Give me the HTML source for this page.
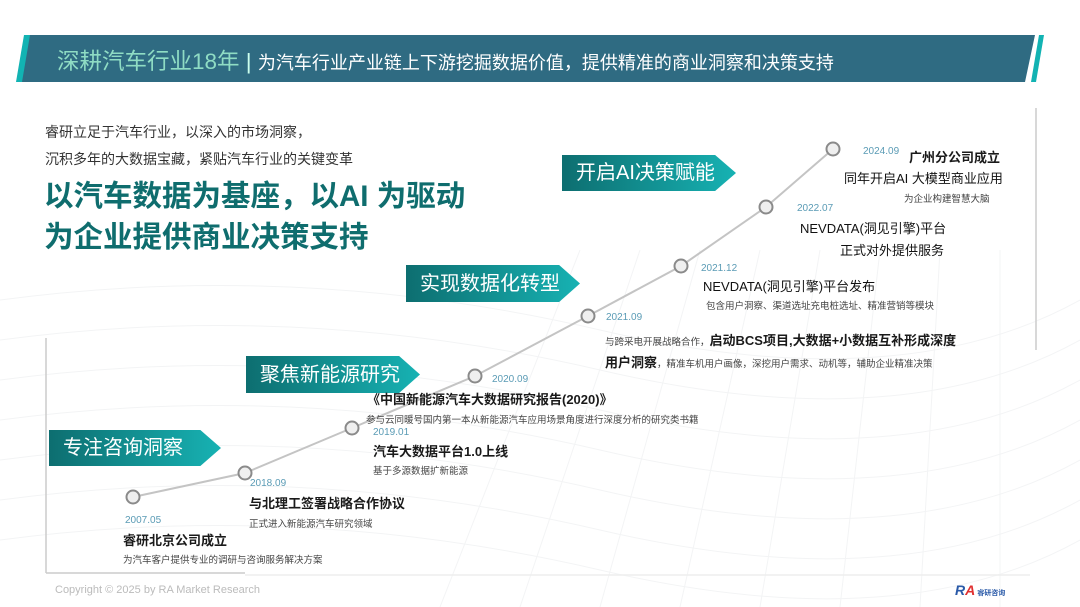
<!DOCTYPE html>
<html><head><meta charset="utf-8"><style>
*{margin:0;padding:0;box-sizing:border-box}
body{width:1080px;height:607px;background:#fff;position:relative;overflow:hidden;font-family:"Liberation Sans","Noto Sans CJK SC",sans-serif;color:#222}
.a{position:absolute;white-space:nowrap}
.d{color:#5a9bb5;font-size:10px}
.t{font-size:13px;font-weight:bold;color:#1a1a1a}
.s{font-size:9.5px;color:#444}
.ban{position:absolute;color:#fff;font-size:20px;line-height:1;display:flex;align-items:center;padding-left:14px;clip-path:polygon(0 0,88% 0,100% 50%,88% 100%,0 100%);background:linear-gradient(90deg,#0d6e70,#17b2b3);box-shadow:0 2px 3px rgba(0,0,0,.2)}
</style></head><body>
<svg class="a" style="left:0;top:0" width="1080" height="607">
<g stroke="#f3f4f5" stroke-width="1" fill="none">
<path d="M0 300 Q300 260 600 330 T1080 300"/><path d="M0 340 Q300 300 600 370 T1080 340"/><path d="M0 380 Q300 340 600 410 T1080 380"/><path d="M0 420 Q300 380 600 450 T1080 420"/><path d="M0 460 Q300 420 600 490 T1080 460"/><path d="M0 500 Q300 460 600 530 T1080 500"/><path d="M0 540 Q300 500 600 570 T1080 540"/>
<path d="M600 607 L700 250"/><path d="M680 607 L760 250"/><path d="M760 607 L820 250"/><path d="M840 607 L880 250"/><path d="M920 607 L940 250"/><path d="M1000 607 L1000 250"/><path d="M520 607 L640 250"/><path d="M440 607 L580 250"/>
</g>
<polygon points="28,35 1035,35 1025,82 20,82" fill="#2f6b82"/>
<polygon points="16,82 24,35 30,35 22,82" fill="#12b3b3"/>
<polygon points="1031,82 1039,35 1044,35 1036,82" fill="#12b3b3"/>
<line x1="1036" y1="108" x2="1036" y2="350" stroke="#ccc" stroke-width="1.5"/>
<line x1="46" y1="338" x2="46" y2="573" stroke="#ccc" stroke-width="1.5"/>
<line x1="46" y1="573" x2="245" y2="573" stroke="#ccc" stroke-width="1.5"/>
<line x1="245" y1="575" x2="1030" y2="575" stroke="#eee" stroke-width="1.5"/>
<polyline points="133,497 245,473 352,428 475,376 588,316 681,266 766,207 833,149" fill="none" stroke="#c4c4c4" stroke-width="2"/>
<g fill="#efefef" stroke="#8a8a8a" stroke-width="2">
<circle cx="133" cy="497" r="6.5"/><circle cx="245" cy="473" r="6.5"/><circle cx="352" cy="428" r="6.5"/><circle cx="475" cy="376" r="6.5"/><circle cx="588" cy="316" r="6.5"/><circle cx="681" cy="266" r="6.5"/><circle cx="766" cy="207" r="6.5"/><circle cx="833" cy="149" r="6.5"/>
</g>
</svg>
<div class="a" style="left:57px;top:44px;font-size:22.5px;color:#8fdcc4">深耕汽车行业18年 <span style="color:#cfe">|</span> <span style="color:#fff;font-size:18px">为汽车行业产业链上下游挖掘数据价值，提供精准的商业洞察和决策支持</span></div>
<div class="a" style="left:45px;top:122px;font-size:14px;color:#333">睿研立足于汽车行业，以深入的市场洞察，</div>
<div class="a" style="left:45px;top:149px;font-size:14px;color:#333">沉积多年的大数据宝藏，紧贴汽车行业的关键变革</div>
<div class="a" style="left:44px;top:173px;font-size:29.5px;font-weight:bold;color:#0f6d6e">以汽车数据为基座，以AI 为驱动</div>
<div class="a" style="left:44px;top:214px;font-size:29.5px;font-weight:bold;color:#0f6d6e">为企业提供商业决策支持</div>
<div class="ban" style="left:49px;top:430px;width:172px;height:36px">专注咨询洞察</div>
<div class="ban" style="left:246px;top:356px;width:174px;height:37px">聚焦新能源研究</div>
<div class="ban" style="left:406px;top:265px;width:174px;height:37px">实现数据化转型</div>
<div class="ban" style="left:562px;top:155px;width:174px;height:36px">开启AI决策赋能</div>
<div class="a d" style="left:125px;top:515px">2007.05</div>
<div class="a t" style="left:123px;top:530px">睿研北京公司成立</div>
<div class="a s" style="left:123px;top:552px">为汽车客户提供专业的调研与咨询服务解决方案</div>
<div class="a d" style="left:250px;top:478px">2018.09</div>
<div class="a t" style="left:249px;top:493px">与北理工签署战略合作协议</div>
<div class="a s" style="left:249px;top:516px">正式进入新能源汽车研究领域</div>
<div class="a d" style="left:373px;top:427px">2019.01</div>
<div class="a t" style="left:373px;top:441px">汽车大数据平台1.0上线</div>
<div class="a s" style="left:373px;top:463px">基于多源数据扩新能源</div>
<div class="a d" style="left:492px;top:374px">2020.09</div>
<div class="a t" style="left:367px;top:389px">《中国新能源汽车大数据研究报告(2020)》</div>
<div class="a s" style="left:366px;top:412px">参与云同暖号国内第一本从新能源汽车应用场景角度进行深度分析的研究类书籍</div>
<div class="a d" style="left:606px;top:312px">2021.09</div>
<div class="a s" style="left:605px;top:330px">与跨采电开展战略合作，<b style="font-size:13px;color:#1a1a1a">启动BCS项目,大数据+小数据互补形成深度</b></div>
<div class="a s" style="left:605px;top:352px"><b style="font-size:13px;color:#1a1a1a">用户洞察</b>，精准车机用户画像，深挖用户需求、动机等，辅助企业精准决策</div>
<div class="a d" style="left:701px;top:263px">2021.12</div>
<div class="a t" style="left:703px;top:276px;font-weight:normal;color:#111">NEVDATA(洞见引擎)平台发布</div>
<div class="a s" style="left:706px;top:298px">包含用户洞察、渠道选址充电桩选址、精准营销等模块</div>
<div class="a d" style="left:797px;top:203px">2022.07</div>
<div class="a t" style="left:800px;top:218px;font-weight:normal;color:#111">NEVDATA(洞见引擎)平台</div>
<div class="a t" style="left:840px;top:240px;font-weight:normal;color:#111">正式对外提供服务</div>
<div class="a d" style="left:863px;top:146px">2024.09</div>
<div class="a t" style="left:909px;top:147px">广州分公司成立</div>
<div class="a t" style="left:844px;top:168px;font-weight:normal;color:#111">同年开启AI 大模型商业应用</div>
<div class="a s" style="left:904px;top:191px">为企业构建智慧大脑</div>
<div class="a" style="left:55px;top:584px;font-size:11px;color:#bbb">Copyright © 2025 by RA Market Research</div>
<div class="a" style="left:955px;top:582px;font-size:14px;font-weight:bold;font-style:italic;color:#2a5aa8">R<span style="color:#e03030">A</span><span style="font-size:7px;font-style:normal;color:#2a5aa8;margin-left:2px">睿研咨询</span></div>
</body></html>
